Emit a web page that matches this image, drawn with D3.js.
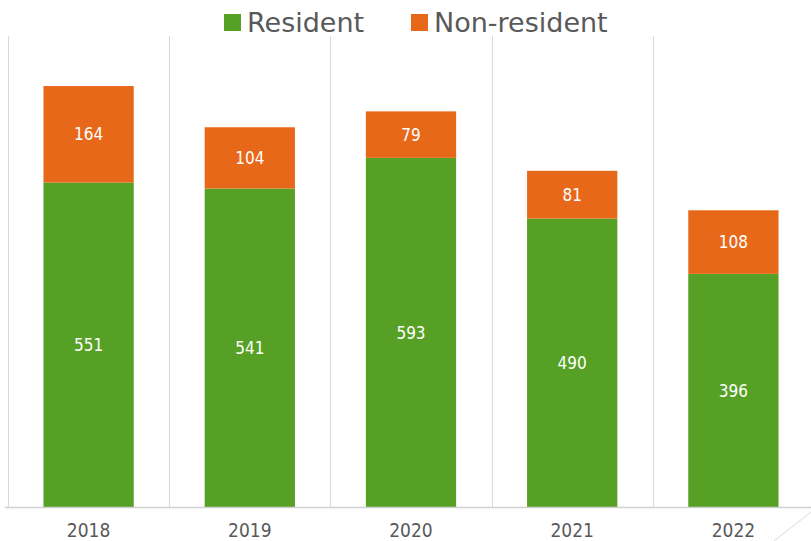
<!DOCTYPE html>
<html>
<head>
<meta charset="utf-8">
<script src="https://cdn.jsdelivr.net/npm/d3@7"></script>
<style>
  body { margin: 0; background: #fff; }
  svg { display: block; }
</style>
</head>
<body>
<svg id="chart" width="811" height="541"></svg>
<script>
let years = ['2018', '2019', '2020', '2021', '2022'];
let resident = [551, 541, 593, 490, 396];
let nonResident = [164, 104, 79, 81, 108];
let seriesNames = ['Resident', 'Non-resident'];
let seriesColors = ['#56a025', '#e8681a'];

let svg = d3.select('#chart');
let plotLeft = 8, plotRight = 814, plotTop = 36, plotBottom = 507;

let xScale = d3.scaleBand()
	.domain(years)
	.range([plotLeft, plotRight])
	.paddingInner(0.44)
	.paddingOuter(0.22);
let yScale = d3.scaleLinear()
	.domain([0, 800])
	.range([plotBottom, plotTop]);

// vertical grid lines between categories
let bounds = d3.range(years.length + 1).map(i => plotLeft + i * (plotRight - plotLeft) / years.length);
svg.selectAll('line.grid')
	.data(bounds)
	.enter().append('line')
	.attr('class', 'grid')
	.attr('x1', d => Math.round(d) + 0.5)
	.attr('x2', d => Math.round(d) + 0.5)
	.attr('y1', plotTop)
	.attr('y2', plotBottom)
	.attr('stroke', '#d9d9d9')
	.attr('stroke-width', 1);

// stacked data
let table = years.map((y, i) => ({ year: y, Resident: resident[i], 'Non-resident': nonResident[i] }));
let stack = d3.stack().keys(seriesNames)(table);

let groups = svg.selectAll('g.series')
	.data(stack)
	.enter().append('g')
	.attr('fill', (d, i) => seriesColors[i]);

groups.selectAll('rect')
	.data(d => d)
	.enter().append('rect')
	.attr('x', d => xScale(d.data.year))
	.attr('width', xScale.bandwidth())
	.attr('y', d => yScale(d[1]))
	.attr('height', d => yScale(d[0]) - yScale(d[1]));

groups.selectAll('text')
	.data(d => d)
	.enter().append('text')
	.attr('x', d => xScale(d.data.year) + xScale.bandwidth() / 2)
	.attr('y', d => (yScale(d[0]) + yScale(d[1])) / 2)
	.attr('dy', '0.36em')
	.attr('text-anchor', 'middle')
	.attr('fill', '#ffffff')
	.style('font-family', '"DejaVu Sans Condensed", "DejaVu Sans", sans-serif')
	.style('font-size', '17px')
	.text(d => d[1] - d[0]);

// baseline
svg.append('line')
	.attr('x1', 5).attr('x2', 811)
	.attr('y1', plotBottom + 0.5).attr('y2', plotBottom + 0.5)
	.attr('stroke', '#d0d0d0')
	.attr('stroke-width', 1.5);

// x axis labels
let xAxis = d3.axisBottom(xScale).tickSize(0).tickPadding(17);
let gx = svg.append('g')
	.attr('transform', `translate(0,${plotBottom})`)
	.call(xAxis);
gx.select('.domain').remove();
gx.selectAll('text')
	.attr('fill', '#595959')
	.style('font-family', '"DejaVu Sans Condensed", "DejaVu Sans", sans-serif')
	.style('font-size', '19px');

// corner decoration
svg.append('line')
	.attr('x1', 774).attr('y1', 541)
	.attr('x2', 811).attr('y2', 512)
	.attr('stroke', '#d9d9d9')
	.attr('stroke-width', 1);

// legend
let legendPos = [224, 411];
let legend = svg.selectAll('g.legend')
	.data(seriesNames)
	.enter().append('g')
	.attr('class', 'legend')
	.attr('transform', (d, i) => `translate(${legendPos[i]},0)`);
legend.append('rect')
	.attr('x', 0).attr('y', 14)
	.attr('width', 17).attr('height', 17)
	.attr('fill', (d, i) => seriesColors[i]);
legend.append('text')
	.attr('x', 23)
	.attr('y', 32)
	.attr('fill', '#595959')
	.style('font-family', '"DejaVu Sans", sans-serif')
	.style('font-size', '27px')
	.text(d => d);
</script>
</body>
</html>
